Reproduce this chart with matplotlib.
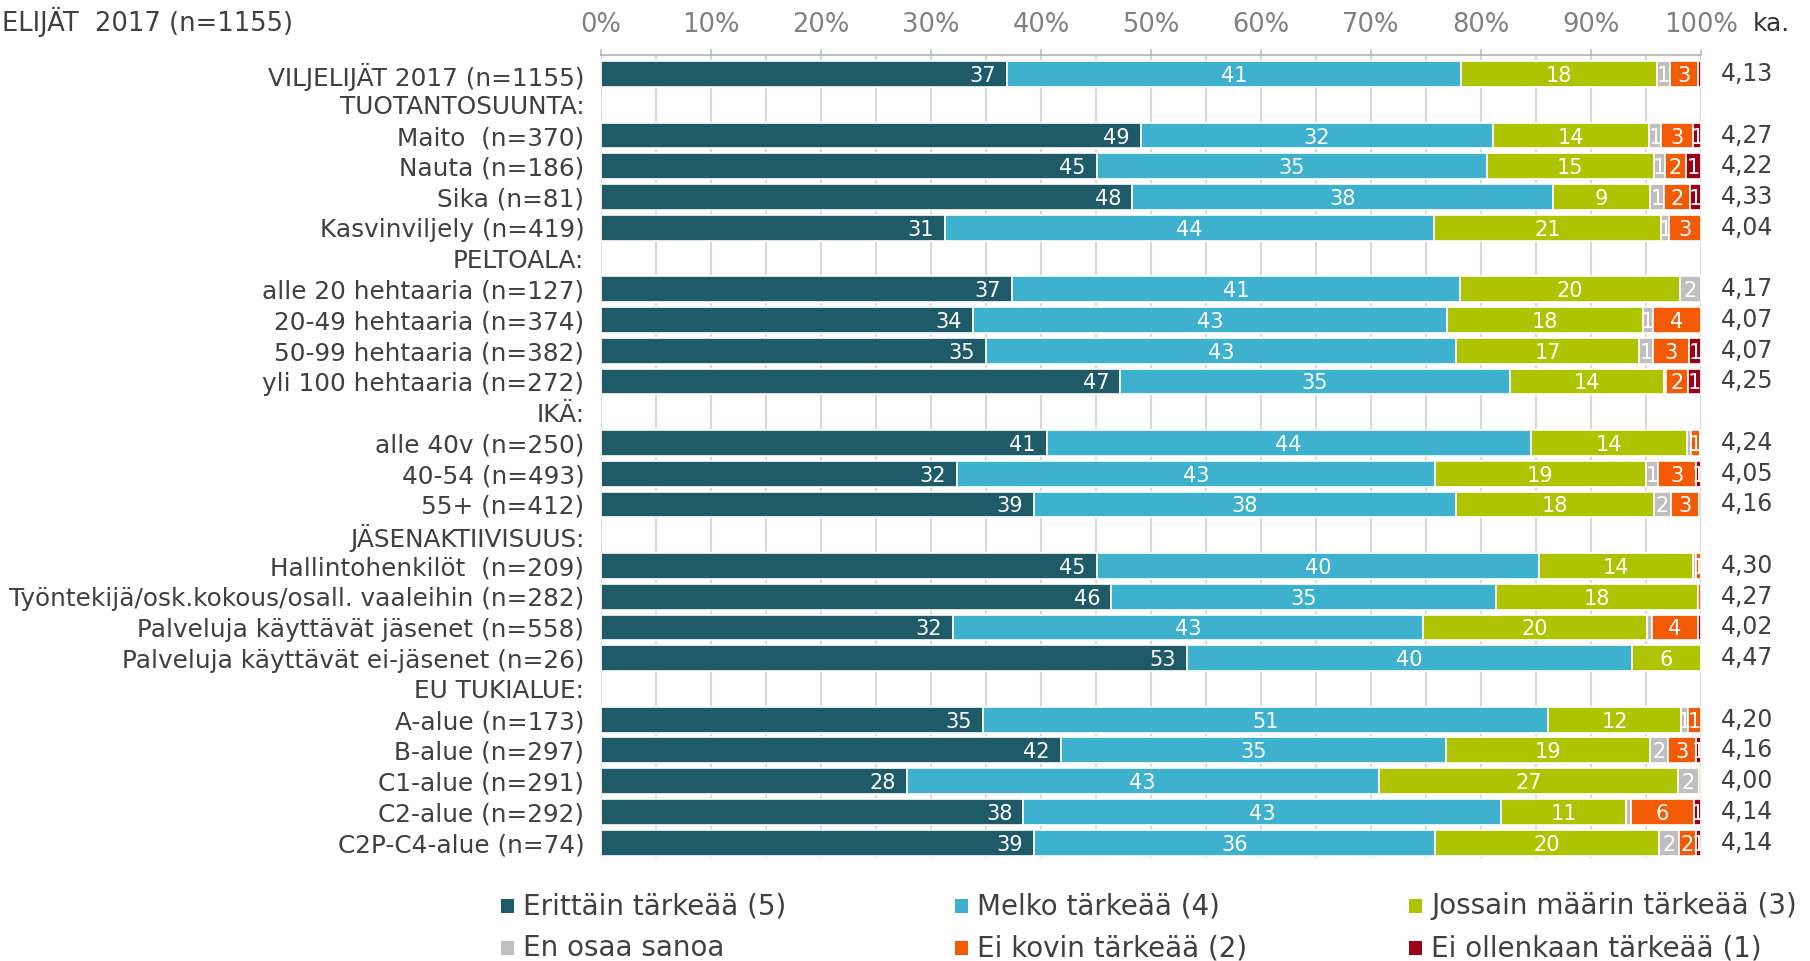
import numpy as np
import matplotlib
matplotlib.use('Agg')
import matplotlib.pyplot as plt
from matplotlib.patches import Rectangle
from matplotlib.transforms import blended_transform_factory

categories = ['VILJELIJÄT 2017 (n=1155)', 'TUOTANTOSUUNTA:',
              'Maito  (n=370)', 'Nauta (n=186)', 'Sika (n=81)', 'Kasvinviljely (n=419)',
              'PELTOALA:',
              'alle 20 hehtaaria (n=127)', '20-49 hehtaaria (n=374)',
              '50-99 hehtaaria (n=382)', 'yli 100 hehtaaria (n=272)',
              'IKÄ:',
              'alle 40v (n=250)', '40-54 (n=493)', '55+ (n=412)',
              'JÄSENAKTIIVISUUS:',
              'Hallintohenkilöt  (n=209)', 'Työntekijä/osk.kokous/osall. vaaleihin (n=282)',
              'Palveluja käyttävät jäsenet (n=558)', 'Palveluja käyttävät ei-jäsenet (n=26)',
              'EU TUKIALUE:',
              'A-alue (n=173)', 'B-alue (n=297)', 'C1-alue (n=291)', 'C2-alue (n=292)',
              'C2P-C4-alue (n=74)']

erittain = [36.9, 0, 49.1, 45.1, 48.3, 31.3, 0, 37.4, 33.8, 35.0, 47.2, 0,
            40.5, 32.4, 39.4, 0, 45.1, 46.4, 32.0, 53.3, 0, 34.7, 41.8, 27.8, 38.4, 39.4]
melko = [41.3, 0, 32.0, 35.4, 38.2, 44.4, 0, 40.7, 43.1, 42.7, 35.4, 0,
         44.0, 43.4, 38.3, 0, 40.2, 35.0, 42.7, 40.4, 0, 51.4, 35.0, 42.9, 43.4, 36.4]
jossain = [17.8, 0, 14.2, 15.2, 8.9, 20.7, 0, 20.0, 17.8, 16.7, 14.0, 0,
           14.2, 19.2, 18.0, 0, 14.0, 18.3, 20.4, 6.3, 0, 12.1, 18.6, 27.2, 11.4, 20.4]
en_osaa = [1.2, 0, 1.1, 1.0, 1.2, 0.7, 0, 1.9, 0.9, 1.2, 0.2, 0,
           0.4, 1.1, 1.6, 0, 0.2, 0, 0.4, 0, 0, 0.6, 1.6, 1.9, 0.4, 1.8]
ei_kovin = [2.5, 0, 2.9, 1.9, 2.4, 2.9, 0, 0, 4.4, 3.3, 2.0, 0,
            0.8, 3.4, 2.5, 0, 0.5, 0.3, 4.2, 0, 0, 1.2, 2.5, 0.2, 5.8, 1.5]
ei_ollenkaan = [0.3, 0, 0.7, 1.4, 1.0, 0, 0, 0, 0, 1.1, 1.2, 0,
                0.1, 0.5, 0.2, 0, 0, 0, 0.3, 0, 0, 0, 0.5, 0, 0.6, 0.5]

keskiarvo = ['4,13', '', '4,27', '4,22', '4,33', '4,04', '', '4,17', '4,07', '4,07', '4,25', '',
             '4,24', '4,05', '4,16', '', '4,30', '4,27', '4,02', '4,47', '',
             '4,20', '4,16', '4,00', '4,14', '4,14']

series = [('Erittäin tärkeää (5)', erittain, '#1F5A69'),
          ('Melko tärkeää (4)', melko, '#3DB1CE'),
          ('Jossain määrin tärkeää (3)', jossain, '#AFC400'),
          ('En osaa sanoa', en_osaa, '#BFBFBF'),
          ('Ei kovin tärkeää (2)', ei_kovin, '#F25A05'),
          ('Ei ollenkaan tärkeää (1)', ei_ollenkaan, '#9B0017')]

W, H = 1810, 961
fig = plt.figure(figsize=(W / 100, H / 100), dpi=100)
ax = fig.add_axes([601 / W, 1 - 858 / H, 1100 / W, 803 / H])

y = np.arange(len(categories))
left = np.zeros(len(categories))
for n, (name, vals, col) in enumerate(series):
    vals = np.array(vals, dtype=float)
    idx = vals > 0
    bars = ax.barh(y[idx], vals[idx], left=left[idx], height=0.84, color=col,
                   edgecolor='white', linewidth=1.2, zorder=3)
    for bar, v in zip(bars, vals[idx]):
        if v < 0.5:
            continue
        yc = bar.get_y() + bar.get_height() / 2
        if n == 0:
            # first series: label at the inside end
            t = ax.annotate('%d' % int(v + 0.5), (bar.get_x() + bar.get_width(), yc),
                            xytext=(-8, 0), textcoords='offset points',
                            ha='right', va='center_baseline', color='white',
                            fontsize=15, zorder=4)
        else:
            t = ax.text(bar.get_x() + bar.get_width() / 2, yc,
                        '%d' % int(v + 0.5), ha='center', va='center_baseline',
                        color='white', fontsize=15, zorder=4)
        t.set_clip_path(bar)
    left += vals

ax.set_xlim(0, 100)
ax.set_ylim(25.5, -0.62)
ax.set_xticks(np.arange(0, 101, 10))
ax.set_xticklabels(['%d%%' % v for v in range(0, 101, 10)])
ax.set_xticks(np.arange(5, 100, 10), minor=True)
ax.xaxis.tick_top()
ax.tick_params(axis='x', which='major', direction='out', length=4, width=1.2,
               color='#BFBFBF', labelsize=18.5, labelcolor='#808080', pad=8)
ax.tick_params(axis='x', which='minor', length=0)
ax.grid(axis='x', which='both', color='#D9D9D9', lw=1.5, zorder=0)
ax.set_axisbelow(True)

ax.set_yticks(y)
ax.set_yticklabels(categories)
ax.tick_params(axis='y', length=0, pad=12, labelsize=17.8, labelcolor='#404040')

for s in ['left', 'right', 'bottom']:
    ax.spines[s].set_visible(False)
ax.spines['top'].set_color('#BFBFBF')
ax.spines['top'].set_linewidth(1.5)

trans = blended_transform_factory(ax.transAxes, ax.transData)
for i, k in enumerate(keskiarvo):
    if k:
        ax.text(1.018, i, k, transform=trans, ha='left', va='center',
                fontsize=17, color='#404040')

fig.text(1753 / W, 1 - 24 / H, 'ka.', ha='left', va='center', fontsize=18, color='#333333')
fig.text(293 / W, 1 - 22 / H, 'VILJELIJÄT  2017 (n=1155)', ha='right', va='center',
         fontsize=18.5, color='#404040')

# legend, 2 rows x 3 columns
col_x = [501, 955, 1409]
row_y = [906, 948]
for i, (name, vals, col) in enumerate(series):
    cx = col_x[i % 3]
    cy = row_y[i // 3]
    fig.patches.append(Rectangle((cx / W, 1 - (cy + 7) / H), 13 / W, 14 / H,
                                 transform=fig.transFigure, facecolor=col,
                                 edgecolor='none'))
    fig.text((cx + 22) / W, 1 - cy / H, name, ha='left', va='center',
             fontsize=20, color='#404040')

plt.savefig('out.png', dpi=100)
